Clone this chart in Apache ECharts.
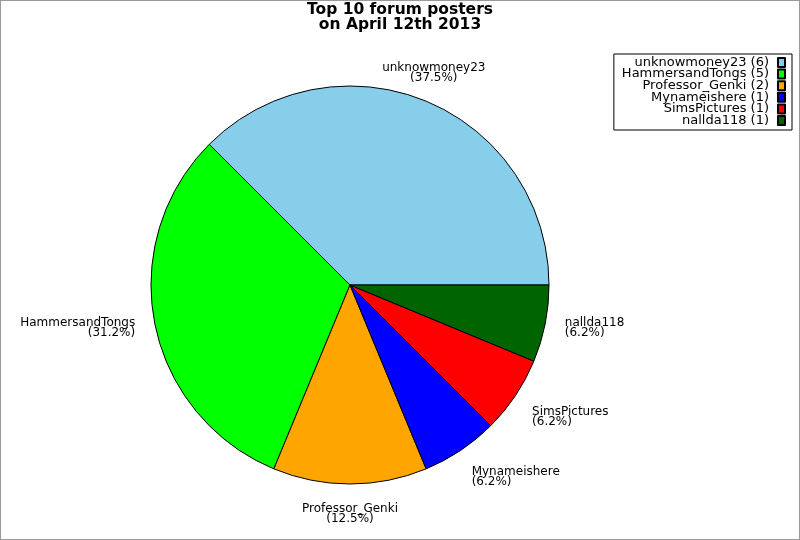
<!DOCTYPE html>
<html lang="en">

<head>
    <meta charset="UTF-8">
    <title>Top 10 forum posters</title>
    <style>
        html, body {
            margin: 0;
            padding: 0;
            background: #fff;
        }

        .box {
            width: 800px;
            height: 540px;
            border: 1px solid #999;
            box-sizing: border-box;
        }
    </style>
    <script src="https://cdn.jsdelivr.net/npm/echarts@6/dist/echarts.min.js"></script>
</head>

<body>
    <div class="box" id="main"></div>
    <script>
        const names = ['unknowmoney23', 'HammersandTongs', 'Professor_Genki', 'Mynameishere', 'SimsPictures', 'nallda118'];
        const posts = [6, 5, 2, 1, 1, 1];
        const colors = ['#87ceeb', '#00ff00', '#ffa500', '#0000ff', '#ff0000', '#006400'];

        const total = posts.reduce((a, b) => a + b, 0);

        // one decimal, ties go to the even digit (31.25 -> 31.2)
        function pct(v) {
            let x = v / total * 1000;
            let f = Math.floor(x);
            let d = x - f;
            if (d > 0.5 + 1e-9 || (Math.abs(d - 0.5) < 1e-9 && f % 2 === 1)) f += 1;
            return (f / 10).toFixed(1);
        }

        // middle angle of each slice, counter-clockwise from 3 o'clock
        function midAngle(i) {
            let before = 0;
            for (let k = 0; k < i; k++) before += posts[k];
            return (before + posts[i] / 2) / total * Math.PI * 2;
        }

        let chart = echarts.init(document.getElementById('main'));

        let option = {
            animation: false,
            color: colors,
            title: {
                text: 'Top 10 forum posters\non April 12th 2013',
                left: 'center',
                top: 1,
                padding: 0,
                textStyle: {
                    fontFamily: 'DejaVu Sans',
                    fontWeight: 'bold',
                    fontSize: 15.5,
                    lineHeight: 15,
                    color: '#000'
                }
            },
            legend: {
                orient: 'vertical',
                right: 7,
                top: 53,
                align: 'right',
                icon: 'rect',
                itemWidth: 7,
                itemHeight: 9,
                itemGap: -1.4,
                padding: [2, 6, 3, 8],
                borderColor: '#000',
                borderWidth: 1,
                backgroundColor: '#fff',
                formatter: name => `${name} (${posts[names.indexOf(name)]})`,
                textStyle: {
                    fontFamily: 'DejaVu Sans',
                    fontSize: 13,
                    color: '#000',
                    padding: [0, 4, 0, 0]
                }
            },
            series: [{
                name: 'posts',
                type: 'pie',
                center: [349, 284],
                radius: 199,
                startAngle: 0,
                clockwise: false,
                avoidLabelOverlap: false,
                itemStyle: {
                    borderColor: '#000',
                    borderWidth: 1
                },
                emphasis: { disabled: true },
                label: {
                    show: true,
                    position: 'outside',
                    distanceToLabelLine: 0,
                    formatter: p => `${p.name}\n(${pct(p.value)}%)`,
                    fontFamily: 'DejaVu Sans',
                    fontSize: 12,
                    lineHeight: 10,
                    color: '#000'
                },
                labelLine: {
                    show: false,
                    length: 20,
                    length2: 0
                },
                labelLayout: params => {
                    const a = midAngle(params.dataIndex);
                    const c = Math.cos(a), s = Math.sin(a);
                    return {
                        align: Math.abs(c) < 0.45 ? 'center' : (c > 0 ? 'left' : 'right'),
                        verticalAlign: Math.abs(s) < 0.45 ? 'middle' : (s > 0 ? 'bottom' : 'top')
                    };
                },
                data: names.map((n, i) => ({
                    name: n,
                    value: posts[i]
                }))
            }]
        };

        chart.setOption(option);
    </script>
</body>

</html>
